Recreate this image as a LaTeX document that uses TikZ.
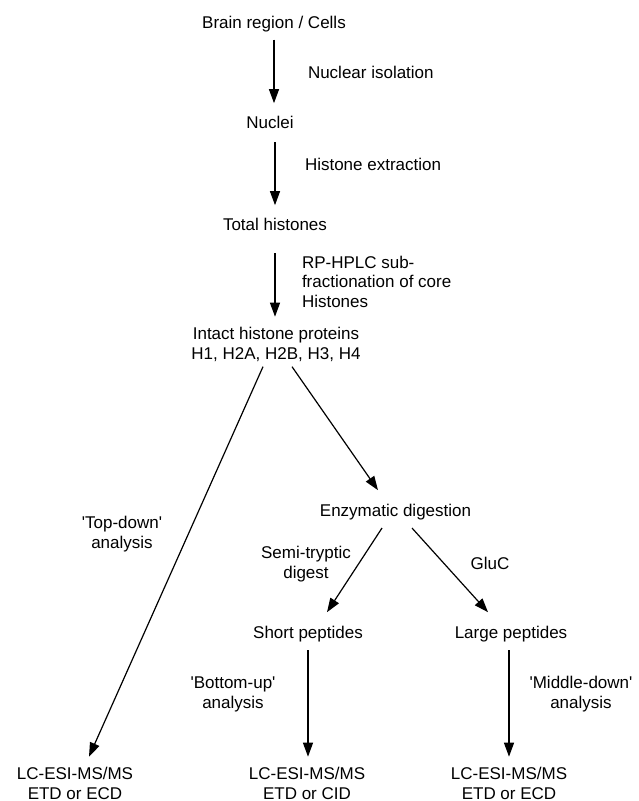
\documentclass[tikz,border=0pt]{standalone}
\usepackage{fontspec}
\setmainfont{Liberation Sans}
\usetikzlibrary{arrows.meta}

\begin{document}
\begin{tikzpicture}[x=1pt, y=-1pt,
  lbl/.style={inner sep=0pt, outer sep=0pt, align=center, font=\fontsize{17}{19.5}\selectfont},
  flow/.style={line width=1.2pt, arrows={-Triangle[width=10pt, length=14pt]}}]
\useasboundingbox (0,0) rectangle (638,801);

% main column (base = last line)
\node[lbl, anchor=base] (brain) at (274,28) {Brain region / Cells};
\node[lbl, anchor=base] (nuclei) at (270,128) {Nuclei};
\node[lbl, anchor=base] (total) at (275,230) {Total histones};
\node[lbl, anchor=base] (intact) at (276,359) {Intact histone proteins\\H1, H2A, H2B, H3, H4};
\node[lbl, anchor=base] (enz) at (395.5,516) {Enzymatic digestion};
\node[lbl, anchor=base] (short) at (308,638) {Short peptides};
\node[lbl, anchor=base] (large) at (511,638) {Large peptides};
\node[lbl, anchor=base] (ms_top) at (75,799) {LC-ESI-MS/MS\\ETD or ECD};
\node[lbl, anchor=base] (ms_bottom) at (307,799) {LC-ESI-MS/MS\\ETD or CID};
\node[lbl, anchor=base] (ms_middle) at (509,799) {LC-ESI-MS/MS\\ETD or ECD};

% step labels
\node[lbl, anchor=base west] (isol) at (308,78) {Nuclear isolation};
\node[lbl, anchor=base west] (extract) at (305,170) {Histone extraction};
\node[lbl, anchor=base west, align=left] (rphplc) at (302,307)
    {RP-HPLC sub-\\fractionation of core\\Histones};
\node[lbl, anchor=base] (topdown) at (122,548) {\textquotesingle Top-down\textquotesingle\\analysis};
\node[lbl, anchor=base] (semi) at (306,578) {Semi-tryptic\\digest};
\node[lbl, anchor=base] (gluc) at (490,569) {GluC};
\node[lbl, anchor=base] (bottomup) at (233,708) {\textquotesingle Bottom-up\textquotesingle\\analysis};
\node[lbl, anchor=base] (middledown) at (581,708) {\textquotesingle Middle-down\textquotesingle\\analysis};

% arrows
\draw[flow, shorten <=8pt, shorten >=12.5pt] (brain.south) -- (brain.south |- nuclei.north);
\draw[flow, shorten <=14pt, shorten >=12.5pt] (total.north |- nuclei.south) -- (total.north);
\draw[flow, shorten <=23pt, shorten >=10.5pt] (total.south) -- (total.south |- intact.north);
\draw[flow] ([shift={(-13pt,-5.5pt)}]intact.south) -- ([shift={(14pt,10.5pt)}]ms_top.north);
\draw[flow] ([shift={(16pt,-5.5pt)}]intact.south) -- ([shift={(-17.5pt,13.5pt)}]enz.north);
\draw[flow] ([shift={(-13.5pt,-8.5pt)}]enz.south) -- ([shift={(19pt,13.5pt)}]short.north);
\draw[flow] ([shift={(16.5pt,-8.5pt)}]enz.south) -- ([shift={(-23pt,13.5pt)}]large.north);
\draw[flow, shorten <=8.5pt, shorten >=10.5pt] (short.south) -- (short.south |- ms_bottom.north);
\draw[flow, shorten <=8.5pt, shorten >=10.5pt] ([xshift=-2pt]large.south) -- ([xshift=-2pt]large.south |- ms_middle.north);
\end{tikzpicture}
\end{document}
